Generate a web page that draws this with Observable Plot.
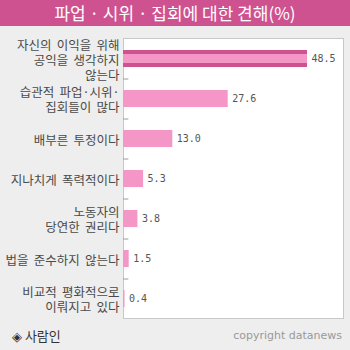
<!DOCTYPE html>
<html><head><meta charset="utf-8">
<script src="https://cdn.jsdelivr.net/npm/d3@7"></script>
<script src="https://cdn.jsdelivr.net/npm/@observablehq/plot@0.6"></script>
<style>
body{margin:0;background:#eeeeee;width:350px;height:350px;overflow:hidden;position:relative;font-family:"Noto Sans CJK KR",sans-serif;}
#title{position:absolute;left:0;top:0;width:350px;height:26px;background:#CF5290;color:#fff;font-size:17px;line-height:26px;text-align:center;}
#chart{position:absolute;left:0;top:26px;}
#chart text.lbl{word-spacing:2.5px;}
#src{position:absolute;left:12px;top:327px;font-size:13px;color:#333;line-height:18px}
#copy{position:absolute;right:8px;top:328px;font-family:"DejaVu Sans";font-size:11px;color:#999;line-height:16px}
</style></head>
<body>
<div id="title">파업 · 시위 · 집회에 대한 견해(%)</div>
<div id="chart"></div>
<div id="src">◈ 사람인</div>
<div id="copy">copyright datanews</div>
<script>
const categories = [
  "자신의 이익을 위해\n공익을 생각하지\n않는다",
  "습관적 파업·시위·\n집회들이 많다",
  "배부른 투정이다",
  "지나치게 폭력적이다",
  "노동자의\n당연한 권리다",
  "법을 준수하지 않는다",
  "비교적 평화적으로\n이뤄지고 있다"
];
const values = [48.5, 27.6, 13.0, 5.3, 3.8, 1.5, 0.4];
const highlight = [true, false, false, false, false, false, false];
const data = categories.map((c, i) => ({cat: c, value: values[i], hl: highlight[i]}));

const chart = Plot.plot({
  width: 350, height: 296,
  marginLeft: 123, marginRight: 7, marginTop: 12, marginBottom: 4,
  style: {background: "transparent", overflow: "visible", fontFamily: "Noto Sans CJK KR"},
  x: {domain: [0, 58], axis: null},
  y: {domain: categories, axis: null, paddingInner: 0.575, paddingOuter: 0.2875},
  marks: [
    Plot.frame({fill: "white", stroke: "#c8c8c8"}),
    Plot.barX(data, {filter: d => d.hl, x: "value", y: "cat", fill: "#CF5290"}),
    Plot.barX(data, {filter: d => d.hl, x: "value", y: "cat", fill: "#F497C6", insetTop: 4, insetBottom: 4}),
    Plot.barX(data, {filter: d => !d.hl, x: "value", y: "cat", fill: "#F497C6"}),
    Plot.ruleY(data.slice(0, -1), {y: "cat", x1: 0, x2: 1.4, dy: 20, stroke: "#999999"}),
    Plot.text(data, {x: 0, y: "cat", text: "cat", textAnchor: "end", dx: -4, dy: 1, fontSize: 12.5, fill: "#4a4a4a", lineHeight: 1.2, className: "lbl"}),
    Plot.text(data, {x: "value", y: "cat", text: d => d.value.toFixed(1), textAnchor: "start", dx: 4, fontFamily: "DejaVu Sans Mono", fontSize: 10, fill: "#555"})
  ]
});
chart.querySelectorAll("g[aria-label=text]")[0]?.querySelectorAll("text").forEach(t => t.classList.add("lbl"));
document.getElementById("chart").appendChild(chart);
</script>
</body></html>
